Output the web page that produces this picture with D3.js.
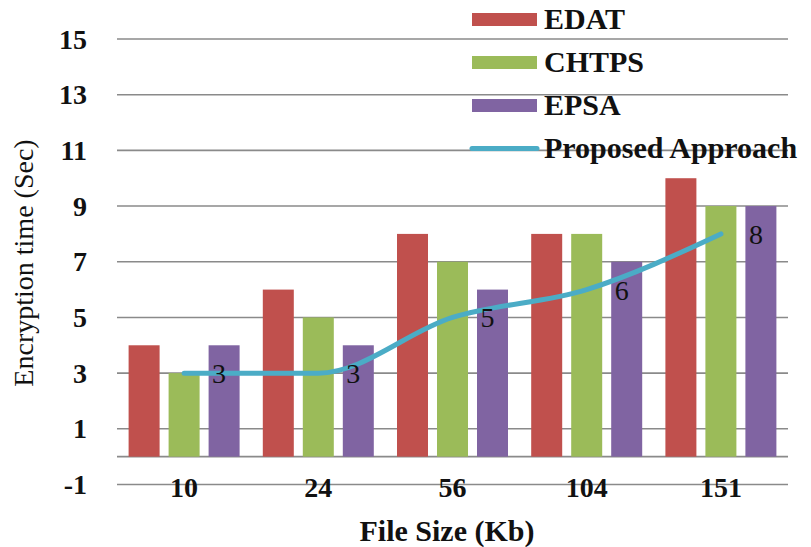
<!DOCTYPE html>
<html>
<head>
<meta charset="utf-8">
<style>
	body { margin: 0; background: #fff; }
	text { font-family: "Liberation Serif", "Times New Roman", serif; fill: #111; }
	.grid line { stroke: #8a8a8a; stroke-width: 1.6px; }
	.line { fill: none; stroke: #4BACC6; stroke-width: 5px; stroke-linecap: round; stroke-linejoin: round; }
</style>
</head>
<body>
<script src="https://cdn.jsdelivr.net/npm/d3@7"></script>
<script>

// Data
var fileSizes = ["10", "24", "56", "104", "151"];
var seriesNames = ["EDAT", "CHTPS", "EPSA"];
var edat = [4, 6, 8, 8, 10];
var chtps = [3, 5, 7, 8, 9];
var epsa = [4, 4, 6, 7, 9];
var proposed = [3, 3, 5, 6, 8];
var yTicks = [-1, 1, 3, 5, 7, 9, 11, 13, 15];

var barColors = ["#C0504D", "#9BBB59", "#8064A2"];
var lineColor = "#4BACC6";
var barValues = [edat, chtps, epsa];

var width = 811, height = 547;
var plot = {left: 117, right: 788, top: 39, bottom: 484.5};

var svg = d3.select("body").append("svg")
	.attr("width", width)
	.attr("height", height);

// Scales
var x0 = d3.scaleBand().domain(fileSizes).range([plot.left, plot.right]).padding(0);
var x1 = d3.scaleBand().domain(seriesNames).range([0, x0.bandwidth()])
	.paddingInner(0.225).paddingOuter(0.29);
var y = d3.scaleLinear().domain([-1, 15]).range([plot.bottom, plot.top]);

// Gridlines
svg.append("g").attr("class", "grid")
	.selectAll("line")
	.data(yTicks.concat([0]))
	.enter().append("line")
	.attr("x1", plot.left)
	.attr("x2", plot.right)
	.attr("y1", function(d) { return y(d); })
	.attr("y2", function(d) { return y(d); });

// Y tick labels
svg.append("g")
	.selectAll("text")
	.data(yTicks)
	.enter().append("text")
	.attr("x", 87)
	.attr("y", function(d) { return y(d) + 9.5; })
	.style("text-anchor", "end")
	.style("font-size", "28px")
	.style("font-weight", "bold")
	.text(function(d) { return d; });

// Bars
seriesNames.forEach(function(name, si) {
	svg.append("g")
		.selectAll("rect")
		.data(barValues[si])
		.enter().append("rect")
		.attr("x", function(d, i) { return x0(fileSizes[i]) + x1(name); })
		.attr("width", x1.bandwidth())
		.attr("y", function(d) { return y(d); })
		.attr("height", function(d) { return y(0) - y(d); })
		.attr("fill", barColors[si]);
});

// Proposed approach line
var line = d3.line()
	.x(function(d, i) { return x0(fileSizes[i]) + x0.bandwidth() / 2; })
	.y(function(d) { return y(d); })
	.curve(d3.curveMonotoneX);

svg.append("path")
	.datum(proposed)
	.attr("class", "line")
	.attr("d", line);

// Data labels
svg.append("g")
	.selectAll("text")
	.data(proposed)
	.enter().append("text")
	.attr("x", function(d, i) { return x0(fileSizes[i]) + x0.bandwidth() / 2 + 28; })
	.attr("y", function(d) { return y(d) + 10; })
	.style("font-size", "28px")
	.text(function(d) { return d; });

// X tick labels
svg.append("g")
	.selectAll("text")
	.data(fileSizes)
	.enter().append("text")
	.attr("x", function(d) { return x0(d) + x0.bandwidth() / 2; })
	.attr("y", 497)
	.style("text-anchor", "middle")
	.style("font-size", "28px")
	.style("font-weight", "bold")
	.text(function(d) { return d; });

// Axis titles
svg.append("text")
	.attr("x", 447)
	.attr("y", 541)
	.style("text-anchor", "middle")
	.style("font-size", "30px")
	.style("font-weight", "bold")
	.text("File Size (Kb)");

svg.append("text")
	.attr("transform", "translate(33,263) rotate(-90)")
	.style("text-anchor", "middle")
	.style("font-size", "28px")
	.text("Encryption time (Sec)");

// Legend
var legendItems = seriesNames.concat(["Proposed Approach"]);
var legendColors = barColors.concat([lineColor]);
var legend = svg.append("g")
	.selectAll("g")
	.data(legendItems)
	.enter().append("g")
	.attr("transform", function(d, i) { return "translate(0," + (19.5 + i * 43) + ")"; });

legend.each(function(d, i) {
	var g = d3.select(this);
	if (i < 3) {
		g.append("rect")
			.attr("x", 472).attr("y", -6.5)
			.attr("width", 65).attr("height", 13)
			.attr("fill", legendColors[i]);
	} else {
		g.append("line")
			.attr("x1", 472).attr("x2", 537)
			.attr("y1", 0).attr("y2", 0)
			.attr("stroke", legendColors[i])
			.attr("stroke-width", 5)
			.attr("stroke-linecap", "round");
	}
	g.append("text")
		.attr("x", 544)
		.attr("y", 9)
		.style("font-size", "30px")
		.style("font-weight", "bold")
		.text(d);
});

</script>
</body>
</html>
